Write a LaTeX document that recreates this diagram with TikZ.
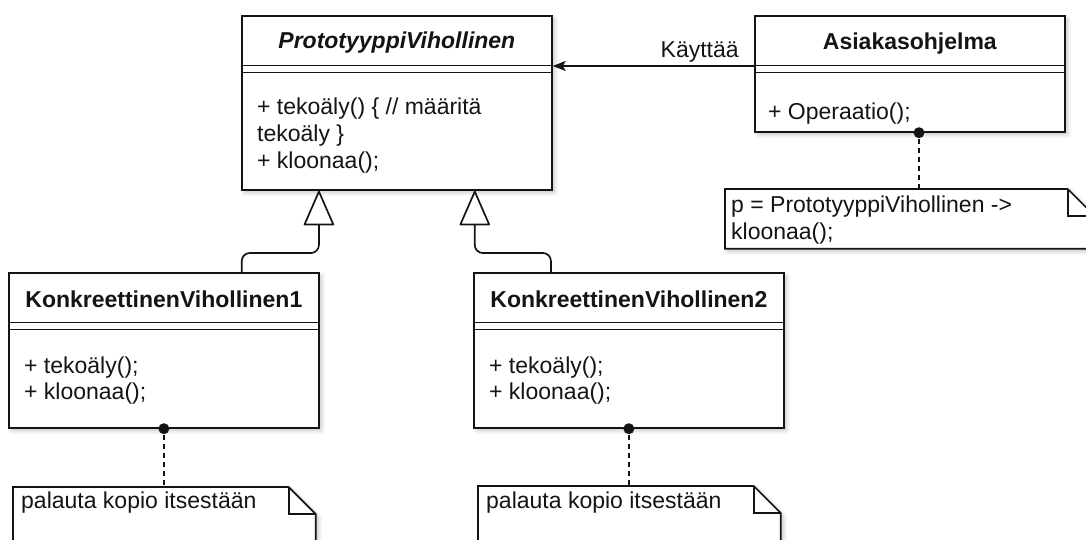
\documentclass[tikz,border=0pt]{standalone}
\usepackage{fontspec}
\setmainfont{Liberation Sans}
\usetikzlibrary{calc,arrows.meta,shadows.blur}
\definecolor{ink}{RGB}{20,20,20}

\begin{document}
\begin{tikzpicture}[x=1pt,y=-1pt,
  font=\fontsize{23}{27}\selectfont,
  line width=1.7pt, draw=ink, text=ink,
  softshadow/.style={blur shadow={shadow xshift=3pt,shadow yshift=-3pt,
      shadow blur steps=6,shadow blur radius=4pt,shadow opacity=22}},
  umlclass/.style={draw=ink, fill=white, softshadow, minimum width=310pt,
      inner sep=0pt, anchor=north west},
  notebox/.style={inner sep=0pt, anchor=north west},
  notepaper/.style={draw=ink, fill=white, softshadow},
  classname/.style={anchor=base, font=\fontsize{23}{27}\selectfont\bfseries},
  member/.style={anchor=base west},
  anchordot/.style={circle, fill=ink, inner sep=0pt, minimum size=11pt},
  notelink/.style={dash pattern=on 5pt off 4pt},
  inherit/.style={rounded corners=8pt,
      -{Triangle[open,length=36pt,width=31pt,round]}},
  uses/.style={-{Stealth[length=13pt,width=10pt,inset=3pt]}}
]
\useasboundingbox (0,0) rectangle (1086,540);

% class boxes
\node[umlclass, minimum height=174pt] (proto) at (241,15) {};
\node[umlclass, minimum height=116pt] (asiak) at (754,15) {};
\node[umlclass, minimum height=155pt] (kv1) at (8,272) {};
\node[umlclass, minimum height=155pt] (kv2) at (473,272) {};

% compartment separators (double line under the name)
\foreach \b in {proto,asiak,kv1,kv2}{
  \draw ($(\b.north west)+(0,50.5)$) -- ($(\b.north east)+(0,50.5)$);
  \draw ($(\b.north west)+(0,57.5)$) -- ($(\b.north east)+(0,57.5)$);
}

% class names
\node[classname, font=\fontsize{23}{27}\selectfont\bfseries\itshape]
  (protoname) at ($(proto.north)+(0,34)$) {PrototyyppiVihollinen};
\node[classname] (asiakname) at ($(asiak.north)+(0,35)$) {Asiakasohjelma};
\node[classname] (kv1name) at ($(kv1.north)+(0,35)$) {KonkreettinenVihollinen1};
\node[classname] (kv2name) at ($(kv2.north)+(0,35)$) {KonkreettinenVihollinen2};

% operations
\node[member] (p1) at ($(proto.north west)+(12,100)$) {+ tekoäly() \{ // määritä};
\node[member] (p2) at ($(proto.north west)+(12,127)$) {tekoäly \}};
\node[member] (p3) at ($(proto.north west)+(12,154)$) {+ kloonaa();};
\node[member] (a1) at ($(asiak.north west)+(10,105)$) {+ Operaatio();};
\node[member] (k11) at ($(kv1.north west)+(12,101)$) {+ tekoäly();};
\node[member] (k12) at ($(kv1.north west)+(12,127)$) {+ kloonaa();};
\node[member] (k21) at ($(kv2.north west)+(12,101)$) {+ tekoäly();};
\node[member] (k22) at ($(kv2.north west)+(12,127)$) {+ kloonaa();};

% notes with folded corner
\node[notebox, minimum width=368pt, minimum height=58pt] (na) at (725,189) {};
\node[notebox, minimum width=301pt, minimum height=80pt] (n1) at (13,487) {};
\node[notebox, minimum width=301pt, minimum height=80pt] (n2) at (478,486) {};
\foreach \n in {na,n1,n2}{
  \draw[notepaper] (\n.south west) -- (\n.north west)
    -- ($(\n.north east)+(-27,0)$) -- ($(\n.north east)+(0,27)$)
    -- (\n.south east) -- cycle;
  \draw ($(\n.north east)+(-27,0)$) -- ($(\n.north east)+(-27,27)$)
    -- ($(\n.north east)+(0,27)$);
}
\node[member] (na1) at ($(na.north west)+(2,23)$) {p = PrototyyppiVihollinen ->};
\node[member] (na2) at ($(na.north west)+(2,50)$) {kloonaa();};
\node[member] (n1t) at ($(n1.north west)+(4,21)$) {palauta kopio itsestään};
\node[member] (n2t) at ($(n2.north west)+(4,22)$) {palauta kopio itsestään};

% note attachments
\node[anchordot] (da) at ($(asiak.south west)+(165,0)$) {};
\node[anchordot] (d1) at (kv1.south) {};
\node[anchordot] (d2) at (kv2.south) {};
\draw[notelink] (da) -- (da |- na.north);
\draw[notelink] (d1) -- (d1 |- n1.north);
\draw[notelink] (d2) -- (d2 |- n2.north);

% generalisations
\draw[inherit] ($(kv1.north west)!0.75!(kv1.north east)$) -- ++(0,-19)
  -| ($(proto.south west)!0.25!(proto.south east)$);
\draw[inherit] ($(kv2.north west)!0.25!(kv2.north east)$) -- ++(0,-19)
  -| ($(proto.south west)!0.75!(proto.south east)$);

% usage
\draw[uses] ($(asiak.north west)+(0,51)$) -- ($(proto.north east)+(0,51)$)
  node[pos=0.27, anchor=base, yshift=8pt] (uselabel) {Käyttää};
\end{tikzpicture}
\end{document}
